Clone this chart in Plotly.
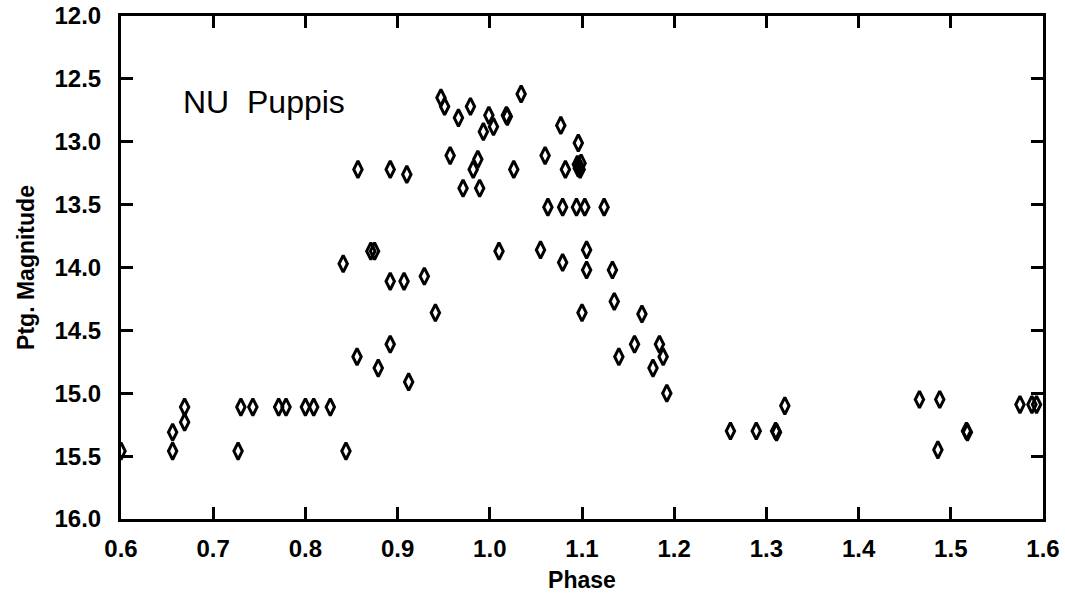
import plotly.graph_objects as go

# Phase and photographic magnitude of NU Puppis
phase = [
    0.600, 0.656, 0.656, 0.669, 0.669, 0.727, 0.730, 0.743, 0.771, 0.779,
    0.800, 0.809, 0.827, 0.841, 0.844, 0.856, 0.857, 0.871, 0.875, 0.879,
    0.892, 0.892, 0.892, 0.907, 0.910, 0.912, 0.929, 0.941, 0.947, 0.951,
    0.957, 0.966, 0.971, 0.979, 0.982, 0.987, 0.989, 0.993, 0.999, 1.004,
    1.010, 1.018, 1.019, 1.026, 1.034, 1.055, 1.060, 1.063, 1.077, 1.079,
    1.079, 1.082, 1.094, 1.096, 1.095, 1.097, 1.098, 1.096, 1.099, 1.100,
    1.103, 1.105, 1.105, 1.124, 1.133, 1.135, 1.140, 1.157, 1.165, 1.177,
    1.184, 1.188, 1.192, 1.261, 1.289, 1.310, 1.311, 1.320, 1.466, 1.486,
    1.488, 1.517, 1.518, 1.575, 1.588, 1.593,
]
magnitude = [
    15.46, 15.31, 15.46, 15.11, 15.23, 15.46, 15.11, 15.11, 15.11, 15.11,
    15.11, 15.11, 15.11, 13.97, 15.46, 14.71, 13.22, 13.87, 13.87, 14.80,
    13.22, 14.11, 14.61, 14.11, 13.26, 14.91, 14.07, 14.36, 12.65, 12.72,
    13.11, 12.81, 13.37, 12.72, 13.22, 13.14, 13.37, 12.92, 12.79, 12.88,
    13.87, 12.79, 12.80, 13.22, 12.62, 13.86, 13.11, 13.52, 12.87, 13.96,
    13.52, 13.22, 13.52, 13.01, 13.18, 13.20, 13.22, 13.21, 13.17, 14.36,
    13.52, 13.86, 14.02, 13.52, 14.02, 14.27, 14.71, 14.61, 14.37, 14.80,
    14.61, 14.71, 15.00, 15.30, 15.30, 15.30, 15.31, 15.10, 15.05, 15.45,
    15.05, 15.30, 15.31, 15.09, 15.09, 15.09,
]

x_ticks = [0.6, 0.7, 0.8, 0.9, 1.0, 1.1, 1.2, 1.3, 1.4, 1.5, 1.6]
y_ticks = [12.0, 12.5, 13.0, 13.5, 14.0, 14.5, 15.0, 15.5, 16.0]

fig = go.Figure()
fig.add_trace(go.Scatter(
    x=phase, y=magnitude, mode="markers",
    marker=dict(symbol="diamond-tall-open", size=12, color="black",
                line=dict(color="black", width=3)),
    showlegend=False,
))

axis_common = dict(
    showline=True, linecolor="black", linewidth=3, mirror="ticks",
    ticks="inside", ticklen=12, tickwidth=3, tickcolor="black",
    showgrid=False, zeroline=False, automargin=False,
    tickfont=dict(family="Liberation Sans", size=24, color="black", weight="bold"),
    tickformat=".1f",
)

fig.update_xaxes(range=[0.6, 1.6], tickvals=x_ticks, ticklabelstandoff=6,
                 title=dict(text="Phase", standoff=12,
                            font=dict(family="Liberation Sans", size=23, color="black", weight="bold")),
                 **axis_common)
fig.update_yaxes(range=[16.0, 12.0], tickvals=y_ticks, ticklabelstandoff=12,
                 title=dict(text="Ptg. Magnitude", standoff=14,
                            font=dict(family="Liberation Sans", size=23, color="black", weight="bold")),
                 **axis_common)

fig.add_annotation(x=0.665, y=12.68, xref="x", yref="y", text="NU\u00a0\u00a0Puppis",
                   showarrow=False, xanchor="left", yanchor="middle",
                   font=dict(family="Liberation Sans", size=32, color="black"))

fig.update_layout(
    width=1065, height=596,
    margin=dict(l=121, r=22, t=16, b=77),
    paper_bgcolor="white", plot_bgcolor="white",
)

fig.write_html("out.html")
